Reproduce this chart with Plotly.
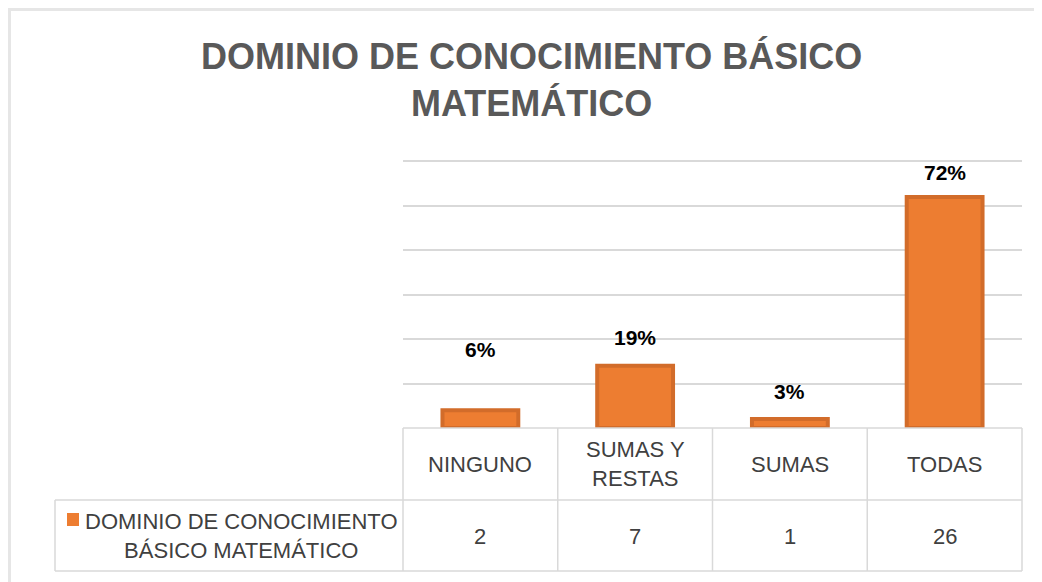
import plotly.graph_objects as go

categories = ["NINGUNO", "SUMAS Y<br>RESTAS", "SUMAS", "TODAS"]
values = [2, 7, 1, 26]
pct_labels = ["6%", "19%", "3%", "72%"]
series_name = "DOMINIO DE CONOCIMIENTO<br>BÁSICO MATEMÁTICO"
title_text = "DOMINIO DE CONOCIMIENTO BÁSICO<br>MATEMÁTICO"

# layout helpers (positions / styles); page pixels, page body has 8px offset
label_shift = [47, 15, 14, 11]
FONT = "Liberation Sans, Arial"
GRID = "#D9D9D9"
TXT = "#404040"
OFF = 8
W, H = 1042 - OFF, 582 - OFF
L = 403 - OFF
R = W - (1022 - OFF)
T = 160 - OFF
B = H - (428 - OFF)
plot_h = H - T - B
plot_w = W - L - R

def py(page_y):
    return (H - B - (page_y - OFF)) / plot_h

def px(page_x):
    return (page_x - OFF - L) / plot_w

x_idx = list(range(len(categories)))
n = len(categories)

fig = go.Figure()
fig.add_trace(go.Bar(
    x=x_idx, y=values, width=0.49,
    marker=dict(color="#ED7D31", line=dict(color="#D26C2A", width=4)),
    hoverinfo="skip", showlegend=False,
))

annotations = []
for i, (v, lab, s) in enumerate(zip(values, pct_labels, label_shift)):
    annotations.append(dict(x=i, y=v, xref="x", yref="y", text=f"<b>{lab}</b>",
                            showarrow=False, yanchor="bottom", yshift=s,
                            font=dict(family=FONT, size=21, color="#000000")))
for i, c in enumerate(categories):
    annotations.append(dict(x=i, y=py(464), xref="x", yref="paper", text=c,
                            showarrow=False, yanchor="middle",
                            font=dict(family=FONT, size=22, color=TXT)))
    annotations.append(dict(x=i, y=py(536), xref="x", yref="paper", text=str(values[i]),
                            showarrow=False, yanchor="middle",
                            font=dict(family=FONT, size=22, color=TXT)))
annotations.append(dict(x=px(241), y=py(536), xref="paper", yref="paper", text=series_name,
                        showarrow=False, yanchor="middle", xanchor="center",
                        font=dict(family=FONT, size=22, color=TXT)))
# title
annotations.append(dict(x=px(531), y=py(80), xref="paper", yref="paper",
                        text=f"<b>{title_text}</b>", showarrow=False,
                        xanchor="center", yanchor="middle",
                        font=dict(family=FONT, size=36, color="#595959")))

shapes = []
line = dict(color=GRID, width=1.5)
for k in range(n + 1):
    shapes.append(dict(type="line", xref="paper", yref="paper", x0=k / n, x1=k / n,
                       y0=0, y1=py(571), line=line))
shapes.append(dict(type="line", xref="paper", yref="paper", x0=px(55), x1=1,
                   y0=py(500), y1=py(500), line=line))
shapes.append(dict(type="line", xref="paper", yref="paper", x0=px(55), x1=1,
                   y0=py(571), y1=py(571), line=line))
shapes.append(dict(type="line", xref="paper", yref="paper", x0=px(55), x1=px(55),
                   y0=py(500), y1=py(571), line=line))
shapes.append(dict(type="line", xref="paper", yref="paper", x0=0, x1=1,
                   y0=0, y1=0, line=line))
# legend key
shapes.append(dict(type="rect", xref="paper", yref="paper", x0=px(67), x1=px(79),
                   y0=py(526), y1=py(513), fillcolor="#ED7D31", line=dict(width=0)))
# outer frame
shapes.append(dict(type="line", xref="paper", yref="paper", x0=px(8), x1=px(1042),
                   y0=py(9.5), y1=py(9.5), line=dict(color="#E6E6E6", width=3)))
shapes.append(dict(type="line", xref="paper", yref="paper", x0=px(9.5), x1=px(9.5),
                   y0=py(8), y1=py(582), line=dict(color="#E6E6E6", width=3)))

fig.update_layout(
    width=W, height=H,
    margin=dict(l=L, r=R, t=T, b=B),
    paper_bgcolor="white", plot_bgcolor="white",
    xaxis=dict(range=[-0.5, n - 0.5], showticklabels=False, showgrid=False,
               zeroline=False, showline=False, ticks="", fixedrange=True),
    yaxis=dict(range=[0, 30.15], tickvals=[5, 10, 15, 20, 25, 30], showticklabels=False,
               showgrid=True, gridcolor=GRID, gridwidth=2, zeroline=False,
               showline=False, ticks=""),
    annotations=annotations,
    shapes=shapes,
    bargap=0.48,
)

fig.write_html("out.html")
